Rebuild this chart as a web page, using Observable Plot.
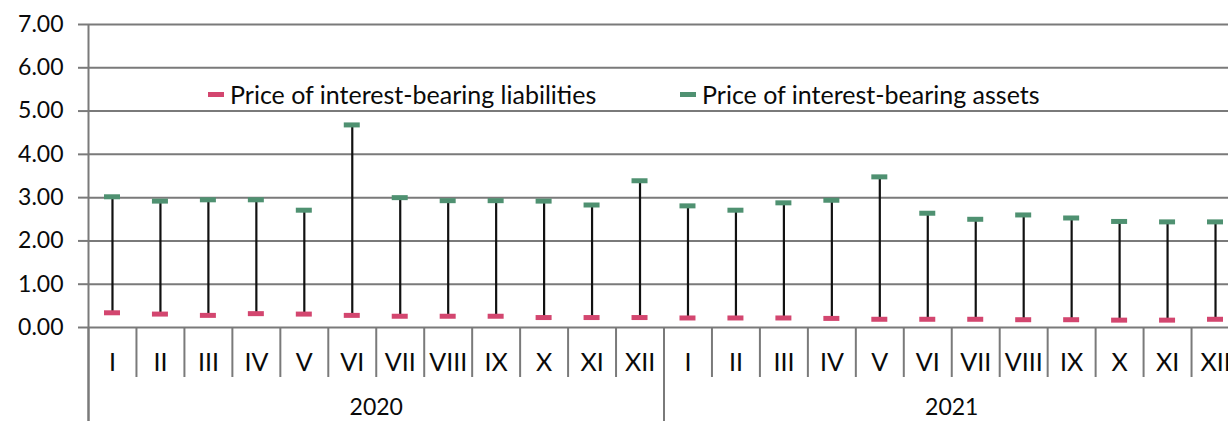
<!DOCTYPE html>
<html>
<head>
<meta charset="utf-8">
<script src="https://cdn.jsdelivr.net/npm/d3@7"></script>
<script src="https://cdn.jsdelivr.net/npm/@observablehq/plot@0.6"></script>
<style>
  html, body { margin: 0; padding: 0; background: #fff; }
  #wrap { position: relative; width: 1228px; height: 421px; overflow: hidden; font-family: Lato, "Noto Sans", sans-serif; }
  .legend { position: absolute; top: 79px; left: 0; font-size: 25px; color: #0a0a0a; white-space: nowrap; }
  .item { position: absolute; top: 0; display: flex; align-items: center; }
  .sw { width: 16px; height: 5px; margin-right: 6px; }
</style>
</head>
<body>
<div id="wrap"></div>
<script>
const years = ["2020", "2021"];
const months = ["I","II","III","IV","V","VI","VII","VIII","IX","X","XI","XII"];
const assets2020 = [3.02, 2.92, 2.95, 2.95, 2.71, 4.68, 3.00, 2.93, 2.93, 2.92, 2.83, 3.39];
const assets2021 = [2.81, 2.71, 2.88, 2.94, 3.48, 2.64, 2.50, 2.60, 2.53, 2.45, 2.44, 2.44];
const liab2020 = [0.34, 0.31, 0.28, 0.32, 0.31, 0.28, 0.26, 0.26, 0.26, 0.23, 0.23, 0.23];
const liab2021 = [0.22, 0.22, 0.22, 0.21, 0.19, 0.19, 0.19, 0.18, 0.18, 0.17, 0.17, 0.19];
const yTicks = [0, 1, 2, 3, 4, 5, 6, 7];
const seriesNames = ["Price of interest-bearing liabilities", "Price of interest-bearing assets"];
const colors = ["#d3466f", "#4f9171"];

const assets = [...assets2020, ...assets2021];
const liab = [...liab2020, ...liab2021];
const data = assets.map((a, i) => ({
  i: i + 0.5,
  month: months[i % 12],
  year: years[Math.floor(i / 12)],
  assets: a,
  liab: liab[i]
}));
const n = data.length;
const centers = data.map(d => d.i);
const boundaries = d3.range(1, n).filter(b => b % 12 !== 0);
const yearBounds = d3.range(0, n + 1, 12);
const yearCenters = years.map((y, k) => k * 12 + 6);

const grid = "#7a7a7a";

const chart = Plot.plot({
  width: 1228,
  height: 421,
  marginTop: 24,
  marginBottom: 94,
  marginLeft: 88,
  marginRight: 0,
  style: { fontFamily: "Lato, 'Noto Sans', sans-serif", color: "#0a0a0a", background: "#fff" },
  x: { type: "linear", domain: [0, n], range: [88, 1239] },
  y: { domain: [0, 7] },
  marks: [
    Plot.gridY(yTicks, { stroke: grid, strokeOpacity: 1, strokeWidth: 2, x1: 0, x2: n }),
    Plot.axisY(yTicks, {
      tickSize: 10, tickPadding: 15, stroke: grid, strokeWidth: 2,
      tickFormat: d3.format(".2f"), fontSize: 23, label: null, fill: "#0a0a0a"
    }),
    // left axis line, extending down through the category area
    Plot.ruleX([0], { y1: 7, y2: 0, stroke: grid, strokeWidth: 2, insetBottom: -94 }),
    // month separators
    Plot.axisX(boundaries, { tickSize: 50, stroke: grid, strokeWidth: 2, tickFormat: () => "", label: null }),
    // year separators
    Plot.axisX(yearBounds, { tickSize: 94, stroke: grid, strokeWidth: 2, tickFormat: () => "", label: null }),
    // month labels
    Plot.axisX(centers, { tickSize: 0, tickPadding: 26, fontSize: 25, tickFormat: v => months[Math.floor(v) % 12], label: null, fill: "#0a0a0a" }),
    // year labels
    Plot.axisX(yearCenters, { tickSize: 0, tickPadding: 71, fontSize: 23, tickFormat: v => years[Math.floor(v / 12)], label: null, fill: "#0a0a0a" }),
    // whiskers
    Plot.ruleX(data, { x: "i", y1: "liab", y2: "assets", stroke: "#111", strokeWidth: 2.2 }),
    // caps
    Plot.ruleY(data, { x1: "i", x2: "i", y: "assets", stroke: colors[1], strokeWidth: 5, insetLeft: -8, insetRight: -8 }),
    Plot.ruleY(data, { x1: "i", x2: "i", y: "liab", stroke: colors[0], strokeWidth: 5, insetLeft: -8, insetRight: -8 })
  ]
});

const wrap = document.getElementById("wrap");
wrap.appendChild(chart);

const legend = document.createElement("div");
legend.className = "legend";
const lefts = [208, 680];
seriesNames.forEach((name, k) => {
  const item = document.createElement("div");
  item.className = "item";
  item.style.left = lefts[k] + "px";
  const sw = document.createElement("span");
  sw.className = "sw";
  sw.style.background = colors[k];
  const t = document.createElement("span");
  t.textContent = name;
  item.appendChild(sw);
  item.appendChild(t);
  legend.appendChild(item);
});
wrap.appendChild(legend);
</script>
</body>
</html>
